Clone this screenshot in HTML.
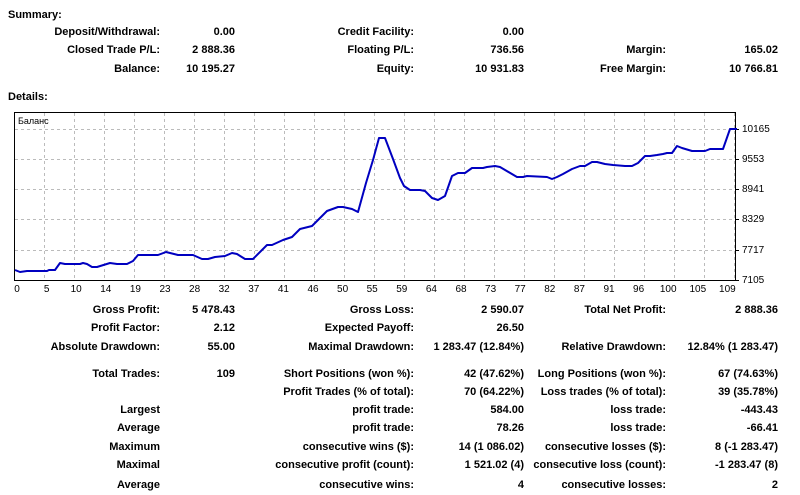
<!DOCTYPE html>
<html><head><meta charset="utf-8"><style>
body{margin:0;width:800px;height:495px;background:#fff;position:relative;font-family:"Liberation Sans",sans-serif;overflow:hidden}
.t{position:absolute;font-size:11px;font-weight:bold;color:#000;white-space:nowrap;line-height:13px}
.r{text-align:right}
</style></head><body>
<div class="t" style="left:8px;top:9px">Summary:</div>
<div class="t" style="left:8px;top:91px">Details:</div>
<svg width="800" height="300" style="position:absolute;left:0;top:0" font-family="Liberation Sans, sans-serif" font-size="10">
<rect x="14.5" y="112.5" width="721" height="168" fill="#fff" stroke="#000" stroke-width="1"/>
<g stroke="#bbb" stroke-dasharray="3,3" stroke-width="1">
<line x1="15" x2="735" y1="129.5" y2="129.5"/><line x1="15" x2="735" y1="159.5" y2="159.5"/><line x1="15" x2="735" y1="189.5" y2="189.5"/><line x1="15" x2="735" y1="219.5" y2="219.5"/><line x1="15" x2="735" y1="250.5" y2="250.5"/>
</g>
<g stroke="#bbb" stroke-dasharray="3,3" stroke-width="1" id="vg"></g>
<text x="18" y="124" font-size="9">Баланс</text>
<g stroke="#000"><line x1="735" x2="739" y1="129.5" y2="129.5"/><line x1="735" x2="739" y1="159.5" y2="159.5"/><line x1="735" x2="739" y1="189.5" y2="189.5"/><line x1="735" x2="739" y1="219.5" y2="219.5"/><line x1="735" x2="739" y1="250.5" y2="250.5"/><line x1="735" x2="739" y1="280.5" y2="280.5"/></g>
<g font-size="10"><text x="742" y="132">10165</text><text x="742" y="162">9553</text><text x="742" y="192">8941</text><text x="742" y="222">8329</text><text x="742" y="253">7717</text><text x="742" y="283">7105</text></g>
<g id="xl" text-anchor="middle" font-size="10"></g>
<polyline fill="none" stroke="#0000c0" stroke-width="2" stroke-linejoin="round" points="15,270 20,272 27,271 47,271 49,270 55,270 60,263 65,264 80,264 83,263 87,264 92,267 97,267 110,263 117,264 127,264 133,261 138,255 158,255 166,252 170,253 178,255 193,255 202,259 208,259 215,257 225,256 232,253 237,254 245,259 253,259 267,245 272,245 283,240 292,237 300,229 312,226 327,211 338,207 343,207 352,209 358,212 366,183 373,160 379,138 385,138 393,159 400,178 404,186 410,190 420,190 425,191 432,198 438,200 445,196 452,176 458,173 465,173 472,168 483,168 487,167 495,166 500,167 517,177 523,177 527,176 547,177 552,179 557,177 563,174 572,169 580,166 585,166 592,162 597,162 605,164 613,165 625,166 632,166 638,163 645,156 650,156 657,155 663,154 667,153 672,153 677,146 682,148 692,151 705,151 710,149 715,149 723,149 730,129 737,129"/>
</svg>
<script>
var vg=document.getElementById('vg'),xl=document.getElementById('xl'),ns="http://www.w3.org/2000/svg";
for(var i=0;i<24;i++){var x=44.5+30*i;var l=document.createElementNS(ns,'line');l.setAttribute('x1',x);l.setAttribute('x2',x);l.setAttribute('y1',113);l.setAttribute('y2',280);vg.appendChild(l);}
var labs=[0,5,10,14,19,23,28,32,37,41,46,50,55,59,64,68,73,77,82,87,91,96,100,105,109];
for(var k=0;k<labs.length;k++){var t=document.createElementNS(ns,'text');t.setAttribute('x',17+29.6*k);t.setAttribute('y',292);t.textContent=labs[k];xl.appendChild(t);}
var rows=[
[33,"Deposit/Withdrawal:","0.00","Credit Facility:","0.00","",""],
[51,"Closed Trade P/L:","2 888.36","Floating P/L:","736.56","Margin:","165.02"],
[70,"Balance:","10 195.27","Equity:","10 931.83","Free Margin:","10 766.81"],
[311,"Gross Profit:","5 478.43","Gross Loss:","2 590.07","Total Net Profit:","2 888.36"],
[329,"Profit Factor:","2.12","Expected Payoff:","26.50","",""],
[348,"Absolute Drawdown:","55.00","Maximal Drawdown:","1 283.47 (12.84%)","Relative Drawdown:","12.84% (1 283.47)"],
[375,"Total Trades:","109","Short Positions (won %):","42 (47.62%)","Long Positions (won %):","67 (74.63%)"],
[393,"","","Profit Trades (% of total):","70 (64.22%)","Loss trades (% of total):","39 (35.78%)"],
[411,"Largest","","profit trade:","584.00","loss trade:","-443.43"],
[429,"Average","","profit trade:","78.26","loss trade:","-66.41"],
[448,"Maximum","","consecutive wins ($):","14 (1 086.02)","consecutive losses ($):","8 (-1 283.47)"],
[466,"Maximal","","consecutive profit (count):","1 521.02 (4)","consecutive loss (count):","-1 283.47 (8)"],
[486,"Average","","consecutive wins:","4","consecutive losses:","2"]];
var rights=[160,235,414,524,666,778];
rows.forEach(function(r){for(var c=0;c<6;c++){if(!r[c+1])continue;var d=document.createElement('div');d.className='t r';d.style.right=(800-rights[c])+'px';d.style.top=(r[0]-7)+'px';d.textContent=r[c+1];document.body.appendChild(d);}});
</script>
</body></html>
